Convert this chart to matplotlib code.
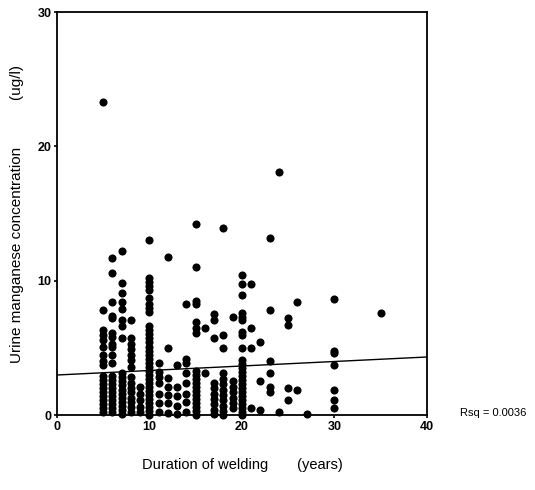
import matplotlib.pyplot as plt

# Urinary manganese vs. years of welding
years = [5, 6, 7, 8, 9, 10, 11, 12, 13, 14, 15, 16, 17, 18, 19, 20,
         21, 22, 23, 24, 25, 26, 27, 30, 35]

mn_05 = [23.3, 7.8, 6.3, 5.95, 5.6, 5.1, 4.5, 4.0, 3.7, 2.9, 2.6, 2.3, 2.0,
         1.7, 1.4, 1.1, 0.8, 0.5, 0.2]
mn_06 = [11.7, 10.6, 8.4, 7.4, 7.2, 6.1, 5.8, 5.3, 5.1, 4.5, 3.9, 2.9, 2.6,
         2.3, 2.0, 1.7, 1.4, 1.1, 0.8, 0.5, 0.2]
mn_07 = [12.2, 9.8, 9.1, 8.4, 7.9, 7.1, 6.6, 5.7, 3.1, 2.8, 2.5, 2.2, 1.9,
         1.6, 1.3, 1.0, 0.7, 0.4, 0.1]
mn_08 = [7.1, 5.7, 5.3, 4.9, 4.5, 4.1, 3.6, 2.8, 2.4, 2.0, 1.7, 1.3, 1.0,
         0.6, 0.2]
mn_09 = [2.1, 1.6, 1.1, 0.6, 0.2]
mn_10 = [13.0, 10.2, 9.9, 9.6, 9.3, 8.7, 8.3, 8.0, 7.7, 6.6, 6.3, 6.0, 5.7,
         5.4, 5.1, 4.8, 4.5, 4.2, 3.9, 3.6, 3.3, 3.0, 2.7, 2.4, 2.1, 1.8,
         1.5, 1.2, 0.9, 0.6, 0.3, 0.0]
mn_11 = [3.9, 3.2, 2.85, 2.4, 1.6, 0.9, 0.25]
mn_12 = [11.8, 5.0, 2.75, 2.1, 1.5, 0.9, 0.15]
mn_13 = [3.7, 2.1, 1.4, 0.7, 0.1]
mn_14 = [8.3, 4.2, 3.9, 3.1, 2.4, 1.6, 1.0, 0.25]
mn_15 = [14.2, 11.0, 8.5, 8.3, 6.9, 6.5, 6.1, 3.3, 3.0, 2.7, 2.4, 2.1, 1.8,
         1.5, 1.2, 0.9, 0.6, 0.3, 0.0]
mn_16 = [6.45, 3.1]
mn_17 = [7.5, 7.1, 5.7, 2.4, 2.0, 1.6, 1.2, 0.8, 0.4, 0.1]
mn_18 = [13.9, 5.95, 5.0, 3.1, 2.7, 2.3, 1.9, 1.5, 1.1, 0.7, 0.3, 0.0]
mn_19 = [7.3, 2.5, 2.1, 1.7, 1.3, 0.9, 0.5]
mn_20 = [10.4, 9.75, 8.9, 7.6, 7.3, 7.1, 6.2, 5.95, 5.0, 4.1, 3.8, 3.5, 3.2,
         2.9, 2.6, 2.3, 2.0, 1.7, 1.4, 1.1, 0.8, 0.5, 0.2, 0.0]
mn_21 = [9.75, 6.5, 5.0, 0.5]
mn_22 = [5.4, 2.5, 0.4]
mn_23 = [13.2, 7.8, 4.0, 3.1, 2.1, 1.7]
mn_24 = [18.1, 0.25]
mn_25 = [7.2, 6.7, 2.0, 1.1]
mn_26 = [8.4, 1.85]
mn_27 = [0.1]
mn_30 = [8.6, 4.8, 4.6, 3.7, 1.9, 1.1, 0.5]
mn_35 = [7.6]

columns = [mn_05, mn_06, mn_07, mn_08, mn_09, mn_10, mn_11, mn_12, mn_13,
           mn_14, mn_15, mn_16, mn_17, mn_18, mn_19, mn_20, mn_21, mn_22,
           mn_23, mn_24, mn_25, mn_26, mn_27, mn_30, mn_35]

# fitted line as printed (endpoints)
fit_x = [0, 40]
fit_y = [2.98, 4.32]
rsq_text = "Rsq = 0.0036"

plt.rcParams['font.family'] = ['Liberation Sans', 'DejaVu Sans']

fig = plt.figure(figsize=(5.35, 4.9), dpi=100)
ax = fig.add_axes([0.1065, 0.153, 0.6915, 0.8225])

for yr, vals in zip(years, columns):
    ax.scatter([yr] * len(vals), vals, s=34, color='black', linewidths=0,
               zorder=3, clip_on=False)

ax.plot(fit_x, fit_y, color='black', linewidth=1.0, zorder=2)

ax.set_xlim(0, 40)
ax.set_ylim(0, 30)
ax.set_xticks([0, 10, 20, 30, 40])
ax.set_yticks([0, 10, 20, 30])
ax.tick_params(direction='out', length=2, width=1.2, labelsize=9, pad=2)
for lab in ax.get_xticklabels() + ax.get_yticklabels():
    lab.set_fontweight('bold')
for sp in ax.spines.values():
    sp.set_linewidth(1.3)

ax.set_xlabel("Duration of welding       (years)", fontsize=10.5, labelpad=18)
ax.set_ylabel("Urine manganese concentration           (ug/l)",
              fontsize=11, labelpad=10)

fig.text(460 / 535, 1 - 413 / 490, rsq_text, fontsize=8, va='center',
         ha='left')

fig.savefig("out.png", dpi=100)
